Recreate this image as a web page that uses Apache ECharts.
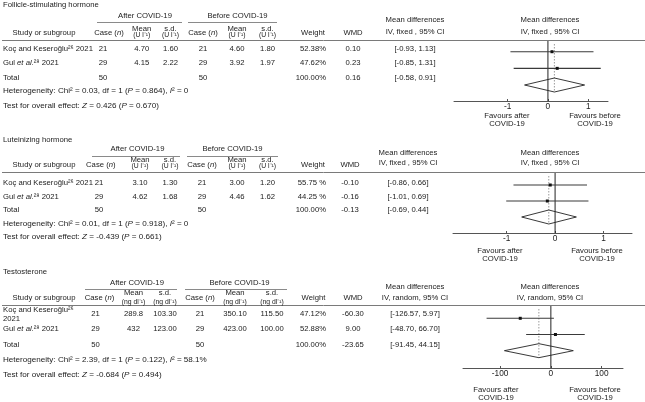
<!DOCTYPE html>
<html><head><meta charset="utf-8">
<script src="https://cdn.jsdelivr.net/npm/echarts@6/dist/echarts.min.js"></script>
<style>html,body{margin:0;padding:0;background:#fff}#c{width:645px;height:402px}</style>
</head><body><div id="c"></div>
<script>
// ================= DATA =================
const panelTitles = ['Follicle-stimulating hormone', 'Luteinizing hormone', 'Testosterone'];
const studyLabels = ['Koç and Keseroğlu²⁶ 2021', 'Gul {i|et al.}²⁸ 2021'];
const studyLabelsWrapped = ['Koç and Keseroğlu²⁶\n2021', 'Gul {i|et al.}²⁸ 2021'];
const units = ['(U l⁻¹)', '(U l⁻¹)', '(ng dl⁻¹)'];
const methods = ['IV, fixed , 95% CI', 'IV, fixed , 95% CI', 'IV, random, 95% CI'];

// Follicle-stimulating hormone
const fshAfterN = [21, 29, 50];
const fshAfterMean = ['4.70', '4.15'];
const fshAfterSd = ['1.60', '2.22'];
const fshBeforeN = [21, 29, 50];
const fshBeforeMean = ['4.60', '3.92'];
const fshBeforeSd = ['1.80', '1.97'];
const fshWeight = ['52.38%', '47.62%', '100.00%'];
const fshWmd = [0.10, 0.23, 0.16];
const fshLow = [-0.93, -0.85, -0.58];
const fshHigh = [1.13, 1.31, 0.91];
const fshHet = ['0.03', '1', '0.864', '0'];
const fshTest = ['0.426', '0.670'];
const fshTicks = [-1, 0, 1];

// Luteinizing hormone
const lhAfterN = [21, 29, 50];
const lhAfterMean = ['3.10', '4.62'];
const lhAfterSd = ['1.30', '1.68'];
const lhBeforeN = [21, 29, 50];
const lhBeforeMean = ['3.00', '4.46'];
const lhBeforeSd = ['1.20', '1.62'];
const lhWeight = ['55.75 %', '44.25 %', '100.00%'];
const lhWmd = [-0.10, -0.16, -0.13];
const lhLow = [-0.86, -1.01, -0.69];
const lhHigh = [0.66, 0.69, 0.44];
const lhHet = ['0.01', '1', '0.918', '0'];
const lhTest = ['-0.439', '0.661'];
const lhTicks = [-1, 0, 1];

// Testosterone
const tesAfterN = [21, 29, 50];
const tesAfterMean = ['289.8', '432'];
const tesAfterSd = ['103.30', '123.00'];
const tesBeforeN = [21, 29, 50];
const tesBeforeMean = ['350.10', '423.00'];
const tesBeforeSd = ['115.50', '100.00'];
const tesWeight = ['47.12%', '52.88%', '100.00%'];
const tesWmd = [-60.30, 9.00, -23.65];
const tesLow = [-126.57, -48.70, -91.45];
const tesHigh = [5.97, 66.70, 44.15];
const tesHet = ['2.39', '1', '0.122', '58.1%'];
const tesTest = ['-0.684', '0.494'];
const tesTicks = [-100, 0, 100];

// ================= ASSEMBLY =================
const panels = [
  {title: panelTitles[0], labels: studyLabels, unit: units[0], method: methods[0],
   aN: fshAfterN, aM: fshAfterMean, aS: fshAfterSd, bN: fshBeforeN, bM: fshBeforeMean, bS: fshBeforeSd,
   w: fshWeight, est: fshWmd, lo: fshLow, hi: fshHigh, het: fshHet, test: fshTest, ticks: fshTicks},
  {title: panelTitles[1], labels: studyLabels, unit: units[1], method: methods[1],
   aN: lhAfterN, aM: lhAfterMean, aS: lhAfterSd, bN: lhBeforeN, bM: lhBeforeMean, bS: lhBeforeSd,
   w: lhWeight, est: lhWmd, lo: lhLow, hi: lhHigh, het: lhHet, test: lhTest, ticks: lhTicks},
  {title: panelTitles[2], labels: studyLabelsWrapped, unit: units[2], method: methods[2],
   aN: tesAfterN, aM: tesAfterMean, aS: tesAfterSd, bN: tesBeforeN, bM: tesBeforeMean, bS: tesBeforeSd,
   w: tesWeight, est: tesWmd, lo: tesLow, hi: tesHigh, het: tesHet, test: tesTest, ticks: tesTicks}
];

// ================= LAYOUT =================
const layout = [
  {title: 4.5, group: 15.5, ul: 22.5, head: 33, m1: -4, m2: 2, hline: 40.5, rows: [49.3, 63.3, 77.7], het: 91, test: 105.5,
   afterC: 145, beforeC: 237.5, ulA: [97, 182], ulB: [188, 277],
   caseH: 109, caseV: 103, meanC: 141.7, sdC: 170.5, bcaseC: 203, bmeanC: 237, bsdC: 267.5,
   weightH: 313, weightR: 326, wmdC: 353, ciC: 415, rightC: 550, md1: 20, md2: 31.7,
   grid: {left: 454, top: 40, width: 154, height: 61}, xr: [-2.33, 1.49], yr: [0.297, 3.96],
   fav: {y1: 116, y2: 124, xa: 507, xb: 595}},
  {title: 140, group: 149, ul: 156.5, head: 165, m1: -5, m2: 1.5, hline: 172.5, rows: [183.3, 196.7, 210], het: 223.3, test: 236.7,
   afterC: 137.5, beforeC: 232.5, ulA: [92, 180], ulB: [187, 278],
   caseH: 100.8, caseV: 99, meanC: 140, sdC: 170, bcaseC: 202, bmeanC: 237, bsdC: 267.5,
   weightH: 313, weightR: 326, wmdC: 350, ciC: 408, rightC: 550, md1: 153, md2: 163,
   grid: {left: 453, top: 172, width: 179, height: 61}, xr: [-2.11, 1.59], yr: [0.1875, 4.0],
   fav: {y1: 251, y2: 259, xa: 500, xb: 597}},
  {title: 271.7, group: 282.7, ul: 289.5, head: 298.3, m1: -5, m2: 3.4, hline: 305.5, rows: [314.3, 329.3, 345], het: 360, test: 374.3,
   afterC: 137, beforeC: 239.5, ulA: [85, 177], ulB: [185, 287],
   caseH: 99.5, caseV: 95.5, meanC: 133.5, sdC: 165, bcaseC: 200, bmeanC: 235, bsdC: 272,
   weightH: 313.5, weightR: 326, wmdC: 353, ciC: 415, rightC: 550, md1: 286.7, md2: 298.3,
   grid: {left: 463, top: 305, width: 160, height: 63}, xr: [-173, 142], yr: [0.179, 4.07],
   fav: {y1: 390, y2: 397.7, xa: 496, xb: 595}}
];

const FONT = '"Liberation Sans", Arial, Helvetica, sans-serif';
const FS = 7.7, FS_NOTE = 8.1, FS_UNIT = 6.8, FS_TICK = 8.3;
const TXT = '#222222';

function T(x, y, text, align, fs, lh) {
  fs = fs || FS;
  const st = {text: String(text), fill: TXT, fontSize: fs, fontFamily: FONT,
    align: align || 'left', verticalAlign: 'middle', textAlign: align || 'left', textVerticalAlign: 'middle',
    rich: {i: {fontStyle: 'italic', fontSize: fs, fontFamily: FONT, fill: TXT, color: TXT, lineHeight: lh}}};
  if (lh) st.lineHeight = lh;
  return {type: 'text', x: x, y: y, silent: true, z: 10, style: st};
}
function HL(x1, x2, y, color, w) {
  return {type: 'line', silent: true, z: 5, shape: {x1: x1, y1: y, x2: x2, y2: y},
    style: {stroke: color || '#888', lineWidth: w || 1}};
}

const graphics = [];
const grids = [], xAxes = [], yAxes = [], series = [];

panels.forEach((p, k) => {
  const L = layout[k];
  // titles & headers
  graphics.push(T(3, L.title, p.title));
  graphics.push(T(L.afterC, L.group, 'After COVID-19', 'center'));
  graphics.push(T(L.beforeC, L.group, 'Before COVID-19', 'center'));
  graphics.push(HL(L.ulA[0], L.ulA[1], L.ul, '#8a8a8a'));
  graphics.push(HL(L.ulB[0], L.ulB[1], L.ul, '#8a8a8a'));
  graphics.push(T(44, L.head, 'Study or subgroup', 'center'));
  graphics.push(T(L.caseH, L.head, 'Case ({i|n})', 'center'));
  graphics.push(T(L.meanC, L.head + L.m1, 'Mean', 'center'));
  graphics.push(T(L.meanC, L.head + L.m2, p.unit, 'center', FS_UNIT));
  graphics.push(T(L.sdC, L.head + L.m1, 's.d.', 'center'));
  graphics.push(T(L.sdC, L.head + L.m2, p.unit, 'center', FS_UNIT));
  graphics.push(T(L.bcaseC, L.head, 'Case ({i|n})', 'center'));
  graphics.push(T(L.bmeanC, L.head + L.m1, 'Mean', 'center'));
  graphics.push(T(L.bmeanC, L.head + L.m2, p.unit, 'center', FS_UNIT));
  graphics.push(T(L.bsdC, L.head + L.m1, 's.d.', 'center'));
  graphics.push(T(L.bsdC, L.head + L.m2, p.unit, 'center', FS_UNIT));
  graphics.push(T(L.weightH, L.head, 'Weight', 'center'));
  graphics.push(T(L.wmdC, L.head, 'WMD', 'center'));
  graphics.push(T(L.ciC, L.md1, 'Mean differences', 'center'));
  graphics.push(T(L.ciC, L.md2, p.method, 'center'));
  graphics.push(T(L.rightC, L.md1, 'Mean differences', 'center'));
  graphics.push(T(L.rightC, L.md2, p.method, 'center'));
  graphics.push(HL(2, 645, L.hline, '#7a7a7a'));

  // study rows
  for (let r = 0; r < 2; r++) {
    const y = L.rows[r];
    graphics.push(T(3, y, p.labels[r], 'left', FS, 9.3));
    graphics.push(T(L.caseV, y, p.aN[r], 'center'));
    graphics.push(T(L.meanC, y, p.aM[r], 'center'));
    graphics.push(T(L.sdC, y, p.aS[r], 'center'));
    graphics.push(T(L.bcaseC, y, p.bN[r], 'center'));
    graphics.push(T(L.bmeanC, y, p.bM[r], 'center'));
    graphics.push(T(L.bsdC, y, p.bS[r], 'center'));
    graphics.push(T(L.weightR, y, p.w[r], 'right'));
    graphics.push(T(L.wmdC, y, p.est[r].toFixed(2), 'center'));
    graphics.push(T(L.ciC, y, '[' + p.lo[r].toFixed(2) + ', ' + p.hi[r].toFixed(2) + ']', 'center'));
  }
  // total row
  const yt = L.rows[2];
  graphics.push(T(3, yt, 'Total'));
  graphics.push(T(L.caseV, yt, p.aN[2], 'center'));
  graphics.push(T(L.bcaseC, yt, p.bN[2], 'center'));
  graphics.push(T(L.weightR, yt, p.w[2], 'right'));
  graphics.push(T(L.wmdC, yt, p.est[2].toFixed(2), 'center'));
  graphics.push(T(L.ciC, yt, '[' + p.lo[2].toFixed(2) + ', ' + p.hi[2].toFixed(2) + ']', 'center'));
  graphics.push(T(3, L.het, 'Heterogeneity: Chi² = ' + p.het[0] + ', df = ' + p.het[1] +
    ' ({i|P} = ' + p.het[2] + '), {i|I}² = ' + p.het[3], 'left', FS_NOTE));
  graphics.push(T(3, L.test, 'Test for overall effect: {i|Z} = ' + p.test[0] + ' ({i|P} = ' + p.test[1] + ')', 'left', FS_NOTE));

  // favours labels
  graphics.push(T(L.fav.xa, L.fav.y1, 'Favours after', 'center'));
  graphics.push(T(L.fav.xa, L.fav.y2, 'COVID-19', 'center'));
  graphics.push(T(L.fav.xb, L.fav.y1, 'Favours before', 'center'));
  graphics.push(T(L.fav.xb, L.fav.y2, 'COVID-19', 'center'));

  // forest plot
  grids.push({left: L.grid.left, top: L.grid.top, width: L.grid.width, height: L.grid.height,
    containLabel: false, outerBoundsMode: 'none'});
  xAxes.push({gridIndex: k, type: 'value', min: L.xr[0], max: L.xr[1], position: 'bottom',
    axisLine: {show: true, onZero: false, lineStyle: {color: '#555', width: 1}},
    axisTick: {show: true, inside: true, customValues: p.ticks, length: 2, lineStyle: {color: '#555'}},
    axisLabel: {show: true, customValues: p.ticks, fontSize: FS_TICK, color: TXT, fontFamily: FONT, margin: 2},
    splitLine: {show: false}});
  yAxes.push({gridIndex: k, type: 'value', min: L.yr[0], max: L.yr[1], inverse: true, show: false});

  const data = p.est.map((e, i) => [e, p.lo[i], p.hi[i], i + 1, i === p.est.length - 1 ? 1 : 0]);
  series.push({
    type: 'custom', coordinateSystem: 'cartesian2d', xAxisIndex: k, yAxisIndex: k,
    encode: {x: [0, 1, 2], y: 3}, data: data, clip: false, silent: true,
    renderItem: function (params, api) {
      const e = api.value(0), l = api.value(1), h = api.value(2), r = api.value(3), tot = api.value(4);
      const pc = api.coord([e, r]), pl = api.coord([l, r]), ph = api.coord([h, r]);
      const cs = params.coordSys;
      if (!tot) {
        return {type: 'group', children: [
          {type: 'line', z2: 2, shape: {x1: pl[0], y1: pl[1], x2: ph[0], y2: ph[1]}, style: {stroke: '#3a3a3a', lineWidth: 1.1}},
          {type: 'rect', z2: 3, shape: {x: pc[0] - 1.5, y: pc[1] - 1.5, width: 3, height: 3}, style: {fill: '#111'}}
        ]};
      }
      const z = api.coord([0, r]);
      const hh = 7;
      return {type: 'group', children: [
        {type: 'line', z2: 1, shape: {x1: z[0], y1: cs.y, x2: z[0], y2: cs.y + cs.height}, style: {stroke: '#222', lineWidth: 1}},
        {type: 'line', z2: 1, shape: {x1: pc[0], y1: cs.y + 4, x2: pc[0], y2: pc[1] + hh}, style: {stroke: '#9a9a9a', lineWidth: 1, lineDash: [1.5, 1.5]}},
        {type: 'polygon', z2: 4, shape: {points: [[pl[0], pl[1]], [pc[0], pc[1] - hh], [ph[0], ph[1]], [pc[0], pc[1] + hh]]},
          style: {fill: 'rgba(255,255,255,0)', stroke: '#222', lineWidth: 0.9}}
      ]};
    }
  });
});

const chart = echarts.init(document.getElementById('c'), null, {renderer: 'canvas'});
chart.setOption({
  animation: false,
  backgroundColor: '#ffffff',
  grid: grids, xAxis: xAxes, yAxis: yAxes, series: series,
  graphic: {elements: graphics}
});
</script></body></html>
